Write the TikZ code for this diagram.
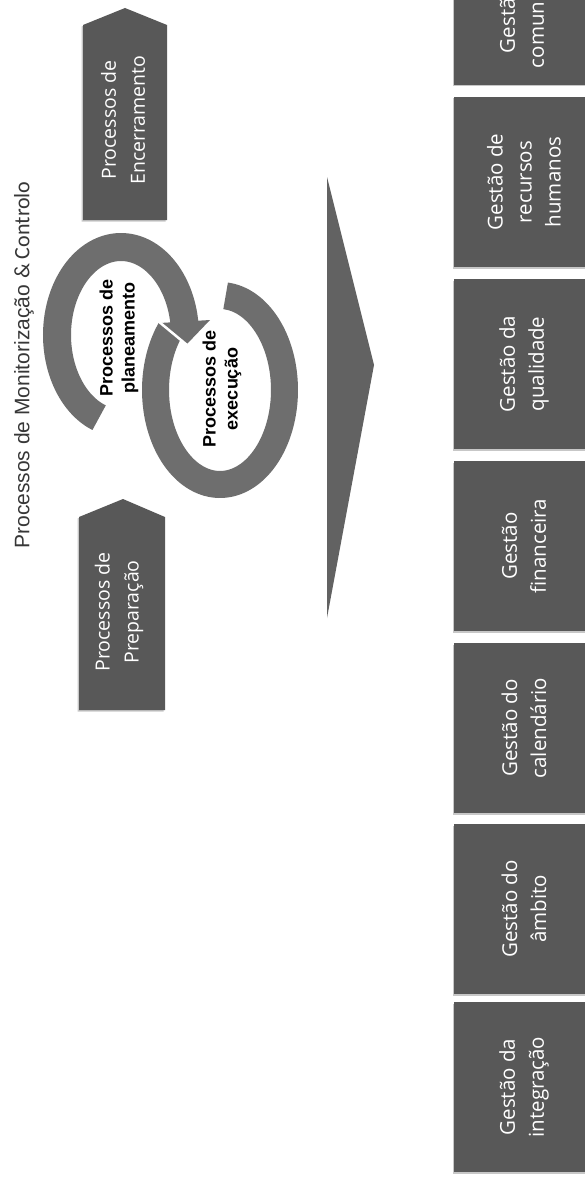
\documentclass[tikz,border=0pt]{standalone}
\usepackage{fontspec}
\setmainfont{Open Sans}
\newfontfamily\arialf{Liberation Sans}
\newfontfamily\carl{Carlito}
\usetikzlibrary{shadows}
\definecolor{boxgray}{RGB}{88,88,88}
\definecolor{arcgray}{RGB}{110,110,110}
\definecolor{trigray}{RGB}{98,98,98}
\definecolor{titlegray}{RGB}{55,55,55}
\begin{document}
\begin{tikzpicture}[x=1pt,y=-1pt,
  softshadow/.style={drop shadow={shadow xshift=-1.5pt,shadow yshift=-1.5pt,opacity=0.22,fill=black}},
  gbox/.style={rotate=90,fill=boxgray,draw=none,minimum width=170pt,minimum height=140pt,inner sep=0pt,
    text=white,align=center,font=\fontsize{20.5}{29}\selectfont,softshadow},
  phase/.style={fill=boxgray,draw=none,softshadow},
  phasetext/.style={rotate=90,text=white,align=center,font=\fontsize{19.5}{29}\selectfont},
  band/.style={draw=arcgray,line width=27pt},
  circtext/.style={rotate=90,align=center,text=black,font=\arialf\bfseries\fontsize{18}{22}\selectfont}
]
\clip (0,0) rectangle (585,1180);
\fill[white] (0,0) rectangle (585,1180);

% title
\node[rotate=90,text=titlegray,inner sep=0pt] (title) at (24,365)
  {\arialf\fontsize{21}{24}\selectfont Processos de Monitorização {\carl\fontsize{22}{24}\selectfont\& Controlo}};

% phase pentagons
\fill[phase] (83,220) -- (83,25) -- (125,8) -- (167,25) -- (167,220) -- cycle;
\node[phasetext] (enc) at (123,120) {Processos de\\Encerramento};
\fill[phase] (79,710) -- (79,517) -- (123,499) -- (165,517) -- (165,710) -- cycle;
\node[phasetext] (prep) at (119,612) {Processos de\\Preparação};

% circular arrows
\draw[band] plot[smooth,samples=60,domain=85:-220,variable=\t] ({220+64.5*cos(\t)},{390-94.5*sin(\t)});
\draw[band,line width=28pt] plot[smooth,samples=60,domain=250:7,variable=\t] ({121+64*cos(\t)},{335-88*sin(\t)});
\fill[arcgray] (160,323) -- (210,320) -- (187,344) -- cycle;
\draw[white,line width=2.5pt] (158,321) -- (187,345);
\node[circtext] (plan) at (119,338) {Processos de\\planeamento};
\node[circtext] (exec) at (222,389) {Processos de\\execução};

% large triangle
\fill[trigray] (327,177) -- (374,365) -- (327,618) -- cycle;

% knowledge areas
\node[gbox] (g7) at (524,0) {Gestão das\\comunicações};
\node[gbox] (g6) at (524,182) {Gestão de\\recursos\\humanos};
\node[gbox] (g5) at (524,364) {Gestão da\\qualidade};
\node[gbox] (g4) at (524,546) {Gestão\\financeira};
\node[gbox] (g3) at (524,728) {Gestão do\\calendário};
\node[gbox] (g2) at (524,909) {Gestão do\\âmbito};
\node[gbox] (g1) at (524,1087) {Gestão da\\integração};
\end{tikzpicture}
\end{document}
